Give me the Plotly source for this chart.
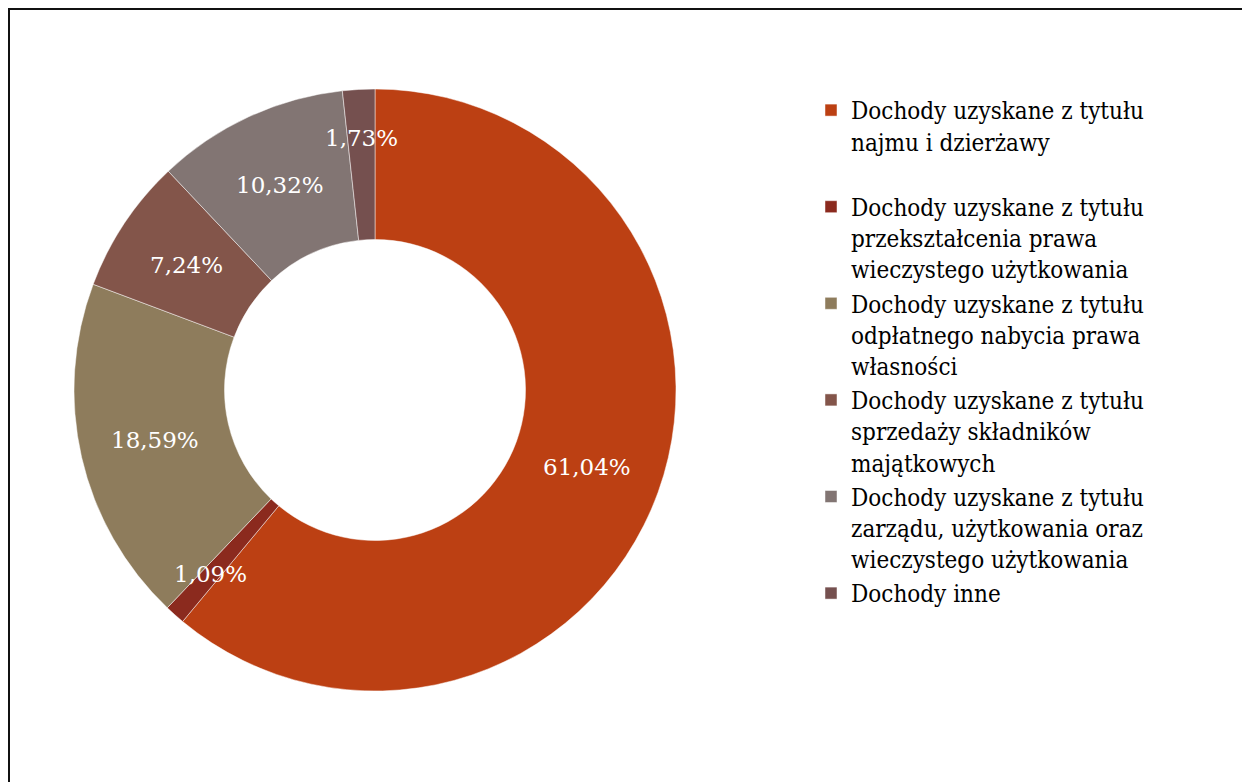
import math
import plotly.graph_objects as go

categories = [
    "Dochody uzyskane z tytułu<br>najmu i dzierżawy<br> ",
    "Dochody uzyskane z tytułu<br>przekształcenia prawa<br>wieczystego użytkowania",
    "Dochody uzyskane z tytułu<br>odpłatnego nabycia prawa<br>własności",
    "Dochody uzyskane z tytułu<br>sprzedaży składników<br>majątkowych",
    "Dochody uzyskane z tytułu<br>zarządu, użytkowania oraz<br>wieczystego użytkowania",
    "Dochody inne",
]
values = [61.04, 1.09, 18.59, 7.24, 10.32, 1.73]
colors = ["#BC4013", "#8B2A1E", "#8E7C5C", "#83554A", "#827573", "#75504F"]
text_labels = [f"{v:.2f}%".replace(".", ",") for v in values]
# label distance from centre, as a fraction of outer radius (small slices pushed outward)
label_radius = [0.75, 0.82, 0.75, 0.75, 0.75, 0.84]

# page has an 8px body margin, so the figure fills the rest of the 1250x782 window
W, H = 1242, 774
cx, cy, R = 367, 382, 301

fig = go.Figure(go.Pie(
    labels=categories,
    values=values,
    textinfo="none",
    hole=0.5,
    sort=False,
    direction="clockwise",
    rotation=0,
    marker=dict(colors=colors, line=dict(color="rgba(255,255,255,0.6)", width=0.8)),
    domain=dict(x=[(cx - R) / W, (cx + R) / W], y=[1 - (cy + R) / H, 1 - (cy - R) / H]),
))

# data labels positioned at slice mid-angles derived from the values
total = sum(values)
annotations = []
cum = 0.0
for v, t, rf in zip(values, text_labels, label_radius):
    mid = (cum + v / 2) / total * 2 * math.pi
    cum += v
    px = cx + rf * R * math.sin(mid)
    py = cy - rf * R * math.cos(mid)
    annotations.append(dict(
        x=px / W, y=1 - py / H, xref="paper", yref="paper",
        text=t, showarrow=False, xanchor="center", yanchor="middle",
        font=dict(family="DejaVu Serif", size=23, color="white"),
    ))

fig.update_layout(
    width=W, height=H,
    margin=dict(l=0, r=0, t=0, b=0),
    paper_bgcolor="white",
    plot_bgcolor="white",
    annotations=annotations,
    legend=dict(
        x=803 / W, y=1 - 80 / H, xanchor="left", yanchor="top",
        font=dict(family="DejaVu Serif Condensed, DejaVu Serif", size=24, color="#000000"),
        valign="top",
        traceorder="normal",
    ),
    shapes=[
        dict(type="line", xref="paper", yref="paper",
             x0=0, x1=1.05, y0=1 - 1 / H, y1=1 - 1 / H,
             line=dict(color="#111111", width=2)),
        dict(type="line", xref="paper", yref="paper",
             x0=1 / W, x1=1 / W, y0=-0.05, y1=1,
             line=dict(color="#111111", width=2)),
    ],
)

fig.write_html("out.html")
